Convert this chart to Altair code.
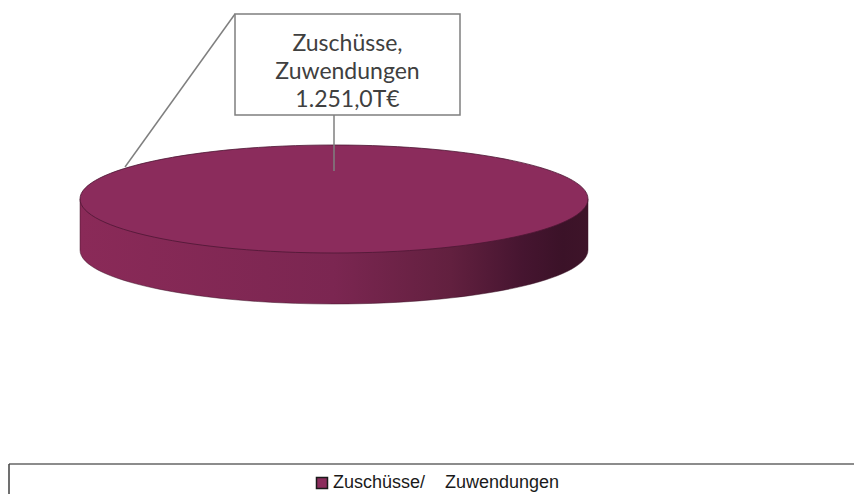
import altair as alt
import pandas as pd

# ---- data ----
categories = ["Zuschüsse/\u00a0\u00a0\u00a0 Zuwendungen"]
values = [1251.0]
label_lines = ["Zuschüsse,", "Zuwendungen"]
unit = "T€"
colors = ["#8B2C5C"]


def de_fmt(v):
    s = f"{v:,.1f}"
    return s.replace(",", "X").replace(".", ",").replace("X", ".")


label_text = label_lines + [de_fmt(values[0]) + unit]

df = pd.DataFrame({"category": categories, "value": values})
df["share"] = df["value"] / df["value"].sum()

# ---- layout (pixels inside chart) ----
W, H = 846, 486
cx, cy = 326, 191          # centre of pie top face
rx, ry, depth = 254, 54, 51
size = (2 * rx) ** 2
ryn, dn = ry / rx, depth / rx

top_path = (f"M -1 0 A 1 {ryn:.4f} 0 1 1 1 0 "
            f"A 1 {ryn:.4f} 0 1 1 -1 0 Z")
side_path = (f"M -1 0 L -1 {dn:.4f} A 1 {ryn:.4f} 0 0 0 1 {dn:.4f} "
             f"L 1 0 Z")

side_grad = {
    "gradient": "linear", "x1": 0, "x2": 1, "y1": 0, "y2": 0,
    "stops": [
        {"offset": 0.0, "color": "#8a2a58"},
        {"offset": 0.5, "color": "#7b2651"},
        {"offset": 0.73, "color": "#62203f"},
        {"offset": 0.87, "color": "#461530"},
        {"offset": 0.95, "color": "#3b1228"},
        {"offset": 1.0, "color": "#3e1429"},
    ],
}

base = alt.Chart(df)

side = base.mark_point(
    shape=side_path, size=size, filled=True, fill=side_grad,
    stroke="#3a1226", strokeWidth=0.6, opacity=1, strokeOpacity=0.8,
).encode(x=alt.value(cx), y=alt.value(cy), detail="category:N")

top = base.mark_point(
    shape=top_path, size=size, filled=True, stroke="#4d1733",
    strokeWidth=0.8, opacity=1,
).encode(
    x=alt.value(cx), y=alt.value(cy),
    color=alt.Color(
        "category:N",
        scale=alt.Scale(domain=categories, range=colors),
        legend=alt.Legend(
            orient="none", legendX=305, legendY=466, title=None,
            symbolType="square", symbolSize=121, symbolStrokeColor="#1a1a1a",
            symbolStrokeWidth=1.5, symbolOpacity=1,
            labelFont="Liberation Sans", labelFontSize=18,
            labelColor="#1a1a1a", labelLimit=500, labelOffset=2, padding=0,
        ),
    ),
)

leader_v = base.mark_rule(color="#7f7f7f", strokeWidth=1.5).encode(
    x=alt.value(326), y=alt.value(107), y2=alt.value(163))
leader_d = base.mark_rule(color="#7f7f7f", strokeWidth=1.5).encode(
    x=alt.value(227), y=alt.value(6), x2=alt.value(117), y2=alt.value(159))

box = base.mark_rect(fill="white", stroke="#7f7f7f", strokeWidth=1.5).encode(
    x=alt.value(227), x2=alt.value(452), y=alt.value(6), y2=alt.value(107))

label = base.mark_text(
    text=label_text, font="Lato", fontSize=23, lineHeight=28,
    color="#404040", align="center", baseline="alphabetic",
).encode(x=alt.value(339.5), y=alt.value(43))

frame_top = base.mark_rule(color="#8c8c8c", strokeWidth=2).encode(
    x=alt.value(1), x2=alt.value(W), y=alt.value(456))
frame_left = base.mark_rule(color="#404040", strokeWidth=1.5).encode(
    x=alt.value(1), y=alt.value(456), y2=alt.value(H))

chart = alt.layer(
    side, top, leader_v, leader_d, box, label, frame_top, frame_left
).properties(
    width=W, height=H, padding=0, autosize=alt.AutoSizeParams(type="none"),
    background="white",
).configure_view(stroke=None)

chart.save("out.html", embed_options={"renderer": "svg", "actions": False})
